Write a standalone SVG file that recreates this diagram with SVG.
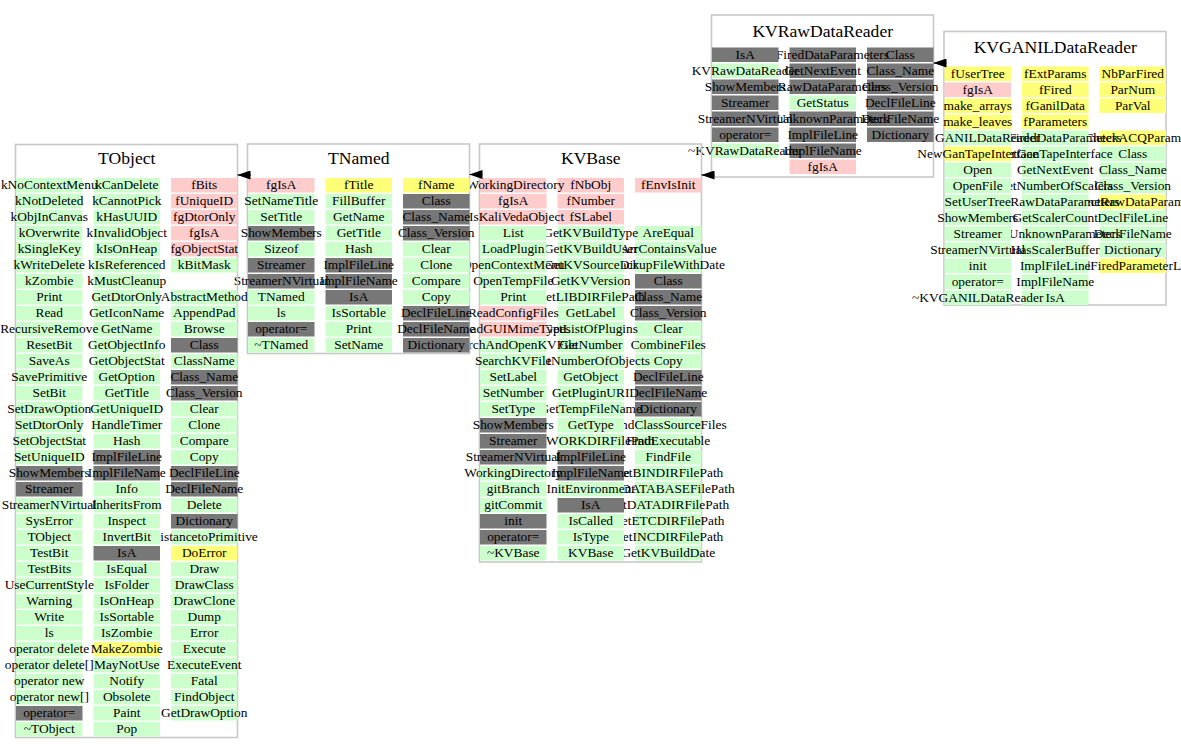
<svg xmlns="http://www.w3.org/2000/svg" width="1181" height="752" viewBox="0 0 1181 752">
<style>
.n{font-family:"Liberation Serif","Times New Roman",serif;font-size:13.4px;text-anchor:middle;fill:#000}
.n .h{font-size:17.6px}
.box{fill:none;stroke:#c8c8c8;stroke-width:1.6}
.g{fill:#ccffcc}.p{fill:#ffcccc}.y{fill:#ffff77}.d{fill:#777777}
.e path{fill:none;stroke:#000;stroke-width:1;marker-end:url(#ah)}
</style>
<defs>
<marker id="ah" viewBox="0 0 13 9" refX="13" refY="4.5" markerWidth="13" markerHeight="9" markerUnits="userSpaceOnUse" orient="auto"><path d="M0,0L13,4.5L0,9Z" fill="#000" stroke="none"/></marker>
</defs>
<rect width="1181" height="752" fill="#fff"/>

<g id="KVGANILDataReader" class="n" transform="translate(944.5,66.5)">
<rect class="box" x="-0.5" y="-35" width="222" height="273.5"/>
<text class="h" x="110.75" y="-14">KVGANILDataReader</text>
<rect class="y" x="155" y="0" width="66.5" height="14.5"/><text x="188.25" y="11">NbParFired</text>
<rect class="y" x="155" y="16" width="66.5" height="14.5"/><text x="188.25" y="27">ParNum</text>
<rect class="y" x="155" y="32" width="66.5" height="14.5"/><text x="188.25" y="43">ParVal</text>
<rect class="y" x="155" y="64" width="66.5" height="14.5"/><text x="188.25" y="75">CheckACQParam</text>
<rect class="g" x="155" y="80" width="66.5" height="14.5"/><text x="188.25" y="91">Class</text>
<rect class="g" x="155" y="96" width="66.5" height="14.5"/><text x="188.25" y="107">Class_Name</text>
<rect class="g" x="155" y="112" width="66.5" height="14.5"/><text x="188.25" y="123">Class_Version</text>
<rect class="y" x="155" y="128" width="66.5" height="14.5"/><text x="188.25" y="139">ConnectRawDataParameters</text>
<rect class="g" x="155" y="144" width="66.5" height="14.5"/><text x="188.25" y="155">DeclFileLine</text>
<rect class="g" x="155" y="160" width="66.5" height="14.5"/><text x="188.25" y="171">DeclFileName</text>
<rect class="g" x="155" y="176" width="66.5" height="14.5"/><text x="188.25" y="187">Dictionary</text>
<rect class="y" x="155" y="192" width="66.5" height="14.5"/><text x="188.25" y="203">FillFiredParameterList</text>
<rect class="y" x="77.5" y="0" width="66.5" height="14.5"/><text x="110.75" y="11">fExtParams</text>
<rect class="y" x="77.5" y="16" width="66.5" height="14.5"/><text x="110.75" y="27">fFired</text>
<rect class="y" x="77.5" y="32" width="66.5" height="14.5"/><text x="110.75" y="43">fGanilData</text>
<rect class="y" x="77.5" y="48" width="66.5" height="14.5"/><text x="110.75" y="59">fParameters</text>
<rect class="g" x="77.5" y="64" width="66.5" height="14.5"/><text x="110.75" y="75">GetFiredDataParameters</text>
<rect class="g" x="77.5" y="80" width="66.5" height="14.5"/><text x="110.75" y="91">GetGanTapeInterface</text>
<rect class="g" x="77.5" y="96" width="66.5" height="14.5"/><text x="110.75" y="107">GetNextEvent</text>
<rect class="g" x="77.5" y="112" width="66.5" height="14.5"/><text x="110.75" y="123">GetNumberOfScalers</text>
<rect class="g" x="77.5" y="128" width="66.5" height="14.5"/><text x="110.75" y="139">GetRawDataParameters</text>
<rect class="g" x="77.5" y="144" width="66.5" height="14.5"/><text x="110.75" y="155">GetScalerCount</text>
<rect class="g" x="77.5" y="160" width="66.5" height="14.5"/><text x="110.75" y="171">GetUnknownParameters</text>
<rect class="g" x="77.5" y="176" width="66.5" height="14.5"/><text x="110.75" y="187">HasScalerBuffer</text>
<rect class="g" x="77.5" y="192" width="66.5" height="14.5"/><text x="110.75" y="203">ImplFileLine</text>
<rect class="g" x="77.5" y="208" width="66.5" height="14.5"/><text x="110.75" y="219">ImplFileName</text>
<rect class="g" x="77.5" y="224" width="66.5" height="14.5"/><text x="110.75" y="235">IsA</text>
<rect class="y" x="0" y="0" width="66.5" height="14.5"/><text x="33.25" y="11">fUserTree</text>
<rect class="p" x="0" y="16" width="66.5" height="14.5"/><text x="33.25" y="27">fgIsA</text>
<rect class="y" x="0" y="32" width="66.5" height="14.5"/><text x="33.25" y="43">make_arrays</text>
<rect class="y" x="0" y="48" width="66.5" height="14.5"/><text x="33.25" y="59">make_leaves</text>
<rect class="g" x="0" y="64" width="66.5" height="14.5"/><text x="33.25" y="75">KVGANILDataReader</text>
<rect class="y" x="0" y="80" width="66.5" height="14.5"/><text x="33.25" y="91">NewGanTapeInterface</text>
<rect class="g" x="0" y="96" width="66.5" height="14.5"/><text x="33.25" y="107">Open</text>
<rect class="g" x="0" y="112" width="66.5" height="14.5"/><text x="33.25" y="123">OpenFile</text>
<rect class="g" x="0" y="128" width="66.5" height="14.5"/><text x="33.25" y="139">SetUserTree</text>
<rect class="g" x="0" y="144" width="66.5" height="14.5"/><text x="33.25" y="155">ShowMembers</text>
<rect class="g" x="0" y="160" width="66.5" height="14.5"/><text x="33.25" y="171">Streamer</text>
<rect class="g" x="0" y="176" width="66.5" height="14.5"/><text x="33.25" y="187">StreamerNVirtual</text>
<rect class="g" x="0" y="192" width="66.5" height="14.5"/><text x="33.25" y="203">init</text>
<rect class="g" x="0" y="208" width="66.5" height="14.5"/><text x="33.25" y="219">operator=</text>
<rect class="g" x="0" y="224" width="66.5" height="14.5"/><text x="33.25" y="235">~KVGANILDataReader</text>
</g>

<g id="KVRawDataReader" class="n" transform="translate(712,47.5)">
<rect class="box" x="-0.5" y="-32.5" width="222" height="162"/>
<text class="h" x="110.75" y="-11">KVRawDataReader</text>
<rect class="d" x="155" y="0" width="66.5" height="14.5"/><text x="188.25" y="11">Class</text>
<rect class="d" x="155" y="16" width="66.5" height="14.5"/><text x="188.25" y="27">Class_Name</text>
<rect class="d" x="155" y="32" width="66.5" height="14.5"/><text x="188.25" y="43">Class_Version</text>
<rect class="d" x="155" y="48" width="66.5" height="14.5"/><text x="188.25" y="59">DeclFileLine</text>
<rect class="d" x="155" y="64" width="66.5" height="14.5"/><text x="188.25" y="75">DeclFileName</text>
<rect class="d" x="155" y="80" width="66.5" height="14.5"/><text x="188.25" y="91">Dictionary</text>
<rect class="d" x="77.5" y="0" width="66.5" height="14.5"/><text x="110.75" y="11">GetFiredDataParameters</text>
<rect class="d" x="77.5" y="16" width="66.5" height="14.5"/><text x="110.75" y="27">GetNextEvent</text>
<rect class="d" x="77.5" y="32" width="66.5" height="14.5"/><text x="110.75" y="43">GetRawDataParameters</text>
<rect class="g" x="77.5" y="48" width="66.5" height="14.5"/><text x="110.75" y="59">GetStatus</text>
<rect class="d" x="77.5" y="64" width="66.5" height="14.5"/><text x="110.75" y="75">GetUnknownParameters</text>
<rect class="d" x="77.5" y="80" width="66.5" height="14.5"/><text x="110.75" y="91">ImplFileLine</text>
<rect class="d" x="77.5" y="96" width="66.5" height="14.5"/><text x="110.75" y="107">ImplFileName</text>
<rect class="p" x="77.5" y="112" width="66.5" height="14.5"/><text x="110.75" y="123">fgIsA</text>
<rect class="d" x="0" y="0" width="66.5" height="14.5"/><text x="33.25" y="11">IsA</text>
<rect class="g" x="0" y="16" width="66.5" height="14.5"/><text x="33.25" y="27">KVRawDataReader</text>
<rect class="d" x="0" y="32" width="66.5" height="14.5"/><text x="33.25" y="43">ShowMembers</text>
<rect class="d" x="0" y="48" width="66.5" height="14.5"/><text x="33.25" y="59">Streamer</text>
<rect class="d" x="0" y="64" width="66.5" height="14.5"/><text x="33.25" y="75">StreamerNVirtual</text>
<rect class="d" x="0" y="80" width="66.5" height="14.5"/><text x="33.25" y="91">operator=</text>
<rect class="g" x="0" y="96" width="66.5" height="14.5"/><text x="33.25" y="107">~KVRawDataReader</text>
</g>

<g id="KVBase" class="n" transform="translate(480,178)">
<rect class="box" x="-0.5" y="-34" width="222" height="418"/>
<text class="h" x="110.75" y="-14">KVBase</text>
<rect class="p" x="155" y="0" width="66.5" height="14.5"/><text x="188.25" y="11">fEnvIsInit</text>
<rect class="g" x="155" y="48" width="66.5" height="14.5"/><text x="188.25" y="59">AreEqual</text>
<rect class="g" x="155" y="64" width="66.5" height="14.5"/><text x="188.25" y="75">ArrContainsValue</text>
<rect class="g" x="155" y="80" width="66.5" height="14.5"/><text x="188.25" y="91">BackupFileWithDate</text>
<rect class="d" x="155" y="96" width="66.5" height="14.5"/><text x="188.25" y="107">Class</text>
<rect class="d" x="155" y="112" width="66.5" height="14.5"/><text x="188.25" y="123">Class_Name</text>
<rect class="d" x="155" y="128" width="66.5" height="14.5"/><text x="188.25" y="139">Class_Version</text>
<rect class="g" x="155" y="144" width="66.5" height="14.5"/><text x="188.25" y="155">Clear</text>
<rect class="g" x="155" y="160" width="66.5" height="14.5"/><text x="188.25" y="171">CombineFiles</text>
<rect class="g" x="155" y="176" width="66.5" height="14.5"/><text x="188.25" y="187">Copy</text>
<rect class="d" x="155" y="192" width="66.5" height="14.5"/><text x="188.25" y="203">DeclFileLine</text>
<rect class="d" x="155" y="208" width="66.5" height="14.5"/><text x="188.25" y="219">DeclFileName</text>
<rect class="d" x="155" y="224" width="66.5" height="14.5"/><text x="188.25" y="235">Dictionary</text>
<rect class="g" x="155" y="240" width="66.5" height="14.5"/><text x="188.25" y="251">FindClassSourceFiles</text>
<rect class="g" x="155" y="256" width="66.5" height="14.5"/><text x="188.25" y="267">FindExecutable</text>
<rect class="g" x="155" y="272" width="66.5" height="14.5"/><text x="188.25" y="283">FindFile</text>
<rect class="g" x="155" y="288" width="66.5" height="14.5"/><text x="188.25" y="299">GetBINDIRFilePath</text>
<rect class="g" x="155" y="304" width="66.5" height="14.5"/><text x="188.25" y="315">GetDATABASEFilePath</text>
<rect class="g" x="155" y="320" width="66.5" height="14.5"/><text x="188.25" y="331">GetDATADIRFilePath</text>
<rect class="g" x="155" y="336" width="66.5" height="14.5"/><text x="188.25" y="347">GetETCDIRFilePath</text>
<rect class="g" x="155" y="352" width="66.5" height="14.5"/><text x="188.25" y="363">GetINCDIRFilePath</text>
<rect class="g" x="155" y="368" width="66.5" height="14.5"/><text x="188.25" y="379">GetKVBuildDate</text>
<rect class="p" x="77.5" y="0" width="66.5" height="14.5"/><text x="110.75" y="11">fNbObj</text>
<rect class="p" x="77.5" y="16" width="66.5" height="14.5"/><text x="110.75" y="27">fNumber</text>
<rect class="p" x="77.5" y="32" width="66.5" height="14.5"/><text x="110.75" y="43">fSLabel</text>
<rect class="g" x="77.5" y="48" width="66.5" height="14.5"/><text x="110.75" y="59">GetKVBuildType</text>
<rect class="g" x="77.5" y="64" width="66.5" height="14.5"/><text x="110.75" y="75">GetKVBuildUser</text>
<rect class="g" x="77.5" y="80" width="66.5" height="14.5"/><text x="110.75" y="91">GetKVSourceDir</text>
<rect class="g" x="77.5" y="96" width="66.5" height="14.5"/><text x="110.75" y="107">GetKVVersion</text>
<rect class="g" x="77.5" y="112" width="66.5" height="14.5"/><text x="110.75" y="123">GetLIBDIRFilePath</text>
<rect class="g" x="77.5" y="128" width="66.5" height="14.5"/><text x="110.75" y="139">GetLabel</text>
<rect class="g" x="77.5" y="144" width="66.5" height="14.5"/><text x="110.75" y="155">GetListOfPlugins</text>
<rect class="g" x="77.5" y="160" width="66.5" height="14.5"/><text x="110.75" y="171">GetNumber</text>
<rect class="g" x="77.5" y="176" width="66.5" height="14.5"/><text x="110.75" y="187">GetNumberOfObjects</text>
<rect class="g" x="77.5" y="192" width="66.5" height="14.5"/><text x="110.75" y="203">GetObject</text>
<rect class="g" x="77.5" y="208" width="66.5" height="14.5"/><text x="110.75" y="219">GetPluginURI</text>
<rect class="g" x="77.5" y="224" width="66.5" height="14.5"/><text x="110.75" y="235">GetTempFileName</text>
<rect class="g" x="77.5" y="240" width="66.5" height="14.5"/><text x="110.75" y="251">GetType</text>
<rect class="g" x="77.5" y="256" width="66.5" height="14.5"/><text x="110.75" y="267">GetWORKDIRFilePath</text>
<rect class="d" x="77.5" y="272" width="66.5" height="14.5"/><text x="110.75" y="283">ImplFileLine</text>
<rect class="d" x="77.5" y="288" width="66.5" height="14.5"/><text x="110.75" y="299">ImplFileName</text>
<rect class="g" x="77.5" y="304" width="66.5" height="14.5"/><text x="110.75" y="315">InitEnvironment</text>
<rect class="d" x="77.5" y="320" width="66.5" height="14.5"/><text x="110.75" y="331">IsA</text>
<rect class="g" x="77.5" y="336" width="66.5" height="14.5"/><text x="110.75" y="347">IsCalled</text>
<rect class="g" x="77.5" y="352" width="66.5" height="14.5"/><text x="110.75" y="363">IsType</text>
<rect class="g" x="77.5" y="368" width="66.5" height="14.5"/><text x="110.75" y="379">KVBase</text>
<rect class="p" x="0" y="0" width="66.5" height="14.5"/><text x="33.25" y="11">fWorkingDirectory</text>
<rect class="p" x="0" y="16" width="66.5" height="14.5"/><text x="33.25" y="27">fgIsA</text>
<rect class="p" x="0" y="32" width="66.5" height="14.5"/><text x="33.25" y="43">kIsKaliVedaObject</text>
<rect class="g" x="0" y="48" width="66.5" height="14.5"/><text x="33.25" y="59">List</text>
<rect class="g" x="0" y="64" width="66.5" height="14.5"/><text x="33.25" y="75">LoadPlugin</text>
<rect class="g" x="0" y="80" width="66.5" height="14.5"/><text x="33.25" y="91">OpenContextMenu</text>
<rect class="g" x="0" y="96" width="66.5" height="14.5"/><text x="33.25" y="107">OpenTempFile</text>
<rect class="g" x="0" y="112" width="66.5" height="14.5"/><text x="33.25" y="123">Print</text>
<rect class="p" x="0" y="128" width="66.5" height="14.5"/><text x="33.25" y="139">ReadConfigFiles</text>
<rect class="p" x="0" y="144" width="66.5" height="14.5"/><text x="33.25" y="155">ReadGUIMimeTypes</text>
<rect class="g" x="0" y="160" width="66.5" height="14.5"/><text x="33.25" y="171">SearchAndOpenKVFile</text>
<rect class="g" x="0" y="176" width="66.5" height="14.5"/><text x="33.25" y="187">SearchKVFile</text>
<rect class="g" x="0" y="192" width="66.5" height="14.5"/><text x="33.25" y="203">SetLabel</text>
<rect class="g" x="0" y="208" width="66.5" height="14.5"/><text x="33.25" y="219">SetNumber</text>
<rect class="g" x="0" y="224" width="66.5" height="14.5"/><text x="33.25" y="235">SetType</text>
<rect class="d" x="0" y="240" width="66.5" height="14.5"/><text x="33.25" y="251">ShowMembers</text>
<rect class="d" x="0" y="256" width="66.5" height="14.5"/><text x="33.25" y="267">Streamer</text>
<rect class="d" x="0" y="272" width="66.5" height="14.5"/><text x="33.25" y="283">StreamerNVirtual</text>
<rect class="g" x="0" y="288" width="66.5" height="14.5"/><text x="33.25" y="299">WorkingDirectory</text>
<rect class="g" x="0" y="304" width="66.5" height="14.5"/><text x="33.25" y="315">gitBranch</text>
<rect class="g" x="0" y="320" width="66.5" height="14.5"/><text x="33.25" y="331">gitCommit</text>
<rect class="d" x="0" y="336" width="66.5" height="14.5"/><text x="33.25" y="347">init</text>
<rect class="d" x="0" y="352" width="66.5" height="14.5"/><text x="33.25" y="363">operator=</text>
<rect class="g" x="0" y="368" width="66.5" height="14.5"/><text x="33.25" y="379">~KVBase</text>
</g>

<g id="TNamed" class="n" transform="translate(248,178)">
<rect class="box" x="-0.5" y="-34" width="222" height="209.5"/>
<text class="h" x="110.75" y="-14">TNamed</text>
<rect class="y" x="155" y="0" width="66.5" height="14.5"/><text x="188.25" y="11">fName</text>
<rect class="d" x="155" y="16" width="66.5" height="14.5"/><text x="188.25" y="27">Class</text>
<rect class="d" x="155" y="32" width="66.5" height="14.5"/><text x="188.25" y="43">Class_Name</text>
<rect class="d" x="155" y="48" width="66.5" height="14.5"/><text x="188.25" y="59">Class_Version</text>
<rect class="g" x="155" y="64" width="66.5" height="14.5"/><text x="188.25" y="75">Clear</text>
<rect class="g" x="155" y="80" width="66.5" height="14.5"/><text x="188.25" y="91">Clone</text>
<rect class="g" x="155" y="96" width="66.5" height="14.5"/><text x="188.25" y="107">Compare</text>
<rect class="g" x="155" y="112" width="66.5" height="14.5"/><text x="188.25" y="123">Copy</text>
<rect class="d" x="155" y="128" width="66.5" height="14.5"/><text x="188.25" y="139">DeclFileLine</text>
<rect class="d" x="155" y="144" width="66.5" height="14.5"/><text x="188.25" y="155">DeclFileName</text>
<rect class="d" x="155" y="160" width="66.5" height="14.5"/><text x="188.25" y="171">Dictionary</text>
<rect class="y" x="77.5" y="0" width="66.5" height="14.5"/><text x="110.75" y="11">fTitle</text>
<rect class="g" x="77.5" y="16" width="66.5" height="14.5"/><text x="110.75" y="27">FillBuffer</text>
<rect class="g" x="77.5" y="32" width="66.5" height="14.5"/><text x="110.75" y="43">GetName</text>
<rect class="g" x="77.5" y="48" width="66.5" height="14.5"/><text x="110.75" y="59">GetTitle</text>
<rect class="g" x="77.5" y="64" width="66.5" height="14.5"/><text x="110.75" y="75">Hash</text>
<rect class="d" x="77.5" y="80" width="66.5" height="14.5"/><text x="110.75" y="91">ImplFileLine</text>
<rect class="d" x="77.5" y="96" width="66.5" height="14.5"/><text x="110.75" y="107">ImplFileName</text>
<rect class="d" x="77.5" y="112" width="66.5" height="14.5"/><text x="110.75" y="123">IsA</text>
<rect class="g" x="77.5" y="128" width="66.5" height="14.5"/><text x="110.75" y="139">IsSortable</text>
<rect class="g" x="77.5" y="144" width="66.5" height="14.5"/><text x="110.75" y="155">Print</text>
<rect class="g" x="77.5" y="160" width="66.5" height="14.5"/><text x="110.75" y="171">SetName</text>
<rect class="p" x="0" y="0" width="66.5" height="14.5"/><text x="33.25" y="11">fgIsA</text>
<rect class="g" x="0" y="16" width="66.5" height="14.5"/><text x="33.25" y="27">SetNameTitle</text>
<rect class="g" x="0" y="32" width="66.5" height="14.5"/><text x="33.25" y="43">SetTitle</text>
<rect class="d" x="0" y="48" width="66.5" height="14.5"/><text x="33.25" y="59">ShowMembers</text>
<rect class="g" x="0" y="64" width="66.5" height="14.5"/><text x="33.25" y="75">Sizeof</text>
<rect class="d" x="0" y="80" width="66.5" height="14.5"/><text x="33.25" y="91">Streamer</text>
<rect class="d" x="0" y="96" width="66.5" height="14.5"/><text x="33.25" y="107">StreamerNVirtual</text>
<rect class="g" x="0" y="112" width="66.5" height="14.5"/><text x="33.25" y="123">TNamed</text>
<rect class="g" x="0" y="128" width="66.5" height="14.5"/><text x="33.25" y="139">ls</text>
<rect class="d" x="0" y="144" width="66.5" height="14.5"/><text x="33.25" y="155">operator=</text>
<rect class="g" x="0" y="160" width="66.5" height="14.5"/><text x="33.25" y="171">~TNamed</text>
</g>

<g id="TObject" class="n" transform="translate(16,178)">
<rect class="box" x="-0.5" y="-33.5" width="222" height="593"/>
<text class="h" x="110.75" y="-14">TObject</text>
<rect class="p" x="155" y="0" width="66.5" height="14.5"/><text x="188.25" y="11">fBits</text>
<rect class="p" x="155" y="16" width="66.5" height="14.5"/><text x="188.25" y="27">fUniqueID</text>
<rect class="p" x="155" y="32" width="66.5" height="14.5"/><text x="188.25" y="43">fgDtorOnly</text>
<rect class="p" x="155" y="48" width="66.5" height="14.5"/><text x="188.25" y="59">fgIsA</text>
<rect class="p" x="155" y="64" width="66.5" height="14.5"/><text x="188.25" y="75">fgObjectStat</text>
<rect class="g" x="155" y="80" width="66.5" height="14.5"/><text x="188.25" y="91">kBitMask</text>
<rect class="g" x="155" y="112" width="66.5" height="14.5"/><text x="188.25" y="123">AbstractMethod</text>
<rect class="g" x="155" y="128" width="66.5" height="14.5"/><text x="188.25" y="139">AppendPad</text>
<rect class="g" x="155" y="144" width="66.5" height="14.5"/><text x="188.25" y="155">Browse</text>
<rect class="d" x="155" y="160" width="66.5" height="14.5"/><text x="188.25" y="171">Class</text>
<rect class="g" x="155" y="176" width="66.5" height="14.5"/><text x="188.25" y="187">ClassName</text>
<rect class="d" x="155" y="192" width="66.5" height="14.5"/><text x="188.25" y="203">Class_Name</text>
<rect class="d" x="155" y="208" width="66.5" height="14.5"/><text x="188.25" y="219">Class_Version</text>
<rect class="g" x="155" y="224" width="66.5" height="14.5"/><text x="188.25" y="235">Clear</text>
<rect class="g" x="155" y="240" width="66.5" height="14.5"/><text x="188.25" y="251">Clone</text>
<rect class="g" x="155" y="256" width="66.5" height="14.5"/><text x="188.25" y="267">Compare</text>
<rect class="g" x="155" y="272" width="66.5" height="14.5"/><text x="188.25" y="283">Copy</text>
<rect class="d" x="155" y="288" width="66.5" height="14.5"/><text x="188.25" y="299">DeclFileLine</text>
<rect class="d" x="155" y="304" width="66.5" height="14.5"/><text x="188.25" y="315">DeclFileName</text>
<rect class="g" x="155" y="320" width="66.5" height="14.5"/><text x="188.25" y="331">Delete</text>
<rect class="d" x="155" y="336" width="66.5" height="14.5"/><text x="188.25" y="347">Dictionary</text>
<rect class="g" x="155" y="352" width="66.5" height="14.5"/><text x="188.25" y="363">DistancetoPrimitive</text>
<rect class="y" x="155" y="368" width="66.5" height="14.5"/><text x="188.25" y="379">DoError</text>
<rect class="g" x="155" y="384" width="66.5" height="14.5"/><text x="188.25" y="395">Draw</text>
<rect class="g" x="155" y="400" width="66.5" height="14.5"/><text x="188.25" y="411">DrawClass</text>
<rect class="g" x="155" y="416" width="66.5" height="14.5"/><text x="188.25" y="427">DrawClone</text>
<rect class="g" x="155" y="432" width="66.5" height="14.5"/><text x="188.25" y="443">Dump</text>
<rect class="g" x="155" y="448" width="66.5" height="14.5"/><text x="188.25" y="459">Error</text>
<rect class="g" x="155" y="464" width="66.5" height="14.5"/><text x="188.25" y="475">Execute</text>
<rect class="g" x="155" y="480" width="66.5" height="14.5"/><text x="188.25" y="491">ExecuteEvent</text>
<rect class="g" x="155" y="496" width="66.5" height="14.5"/><text x="188.25" y="507">Fatal</text>
<rect class="g" x="155" y="512" width="66.5" height="14.5"/><text x="188.25" y="523">FindObject</text>
<rect class="g" x="155" y="528" width="66.5" height="14.5"/><text x="188.25" y="539">GetDrawOption</text>
<rect class="g" x="77.5" y="0" width="66.5" height="14.5"/><text x="110.75" y="11">kCanDelete</text>
<rect class="g" x="77.5" y="16" width="66.5" height="14.5"/><text x="110.75" y="27">kCannotPick</text>
<rect class="g" x="77.5" y="32" width="66.5" height="14.5"/><text x="110.75" y="43">kHasUUID</text>
<rect class="g" x="77.5" y="48" width="66.5" height="14.5"/><text x="110.75" y="59">kInvalidObject</text>
<rect class="g" x="77.5" y="64" width="66.5" height="14.5"/><text x="110.75" y="75">kIsOnHeap</text>
<rect class="g" x="77.5" y="80" width="66.5" height="14.5"/><text x="110.75" y="91">kIsReferenced</text>
<rect class="g" x="77.5" y="96" width="66.5" height="14.5"/><text x="110.75" y="107">kMustCleanup</text>
<rect class="g" x="77.5" y="112" width="66.5" height="14.5"/><text x="110.75" y="123">GetDtorOnly</text>
<rect class="g" x="77.5" y="128" width="66.5" height="14.5"/><text x="110.75" y="139">GetIconName</text>
<rect class="g" x="77.5" y="144" width="66.5" height="14.5"/><text x="110.75" y="155">GetName</text>
<rect class="g" x="77.5" y="160" width="66.5" height="14.5"/><text x="110.75" y="171">GetObjectInfo</text>
<rect class="g" x="77.5" y="176" width="66.5" height="14.5"/><text x="110.75" y="187">GetObjectStat</text>
<rect class="g" x="77.5" y="192" width="66.5" height="14.5"/><text x="110.75" y="203">GetOption</text>
<rect class="g" x="77.5" y="208" width="66.5" height="14.5"/><text x="110.75" y="219">GetTitle</text>
<rect class="g" x="77.5" y="224" width="66.5" height="14.5"/><text x="110.75" y="235">GetUniqueID</text>
<rect class="g" x="77.5" y="240" width="66.5" height="14.5"/><text x="110.75" y="251">HandleTimer</text>
<rect class="g" x="77.5" y="256" width="66.5" height="14.5"/><text x="110.75" y="267">Hash</text>
<rect class="d" x="77.5" y="272" width="66.5" height="14.5"/><text x="110.75" y="283">ImplFileLine</text>
<rect class="d" x="77.5" y="288" width="66.5" height="14.5"/><text x="110.75" y="299">ImplFileName</text>
<rect class="g" x="77.5" y="304" width="66.5" height="14.5"/><text x="110.75" y="315">Info</text>
<rect class="g" x="77.5" y="320" width="66.5" height="14.5"/><text x="110.75" y="331">InheritsFrom</text>
<rect class="g" x="77.5" y="336" width="66.5" height="14.5"/><text x="110.75" y="347">Inspect</text>
<rect class="g" x="77.5" y="352" width="66.5" height="14.5"/><text x="110.75" y="363">InvertBit</text>
<rect class="d" x="77.5" y="368" width="66.5" height="14.5"/><text x="110.75" y="379">IsA</text>
<rect class="g" x="77.5" y="384" width="66.5" height="14.5"/><text x="110.75" y="395">IsEqual</text>
<rect class="g" x="77.5" y="400" width="66.5" height="14.5"/><text x="110.75" y="411">IsFolder</text>
<rect class="g" x="77.5" y="416" width="66.5" height="14.5"/><text x="110.75" y="427">IsOnHeap</text>
<rect class="g" x="77.5" y="432" width="66.5" height="14.5"/><text x="110.75" y="443">IsSortable</text>
<rect class="g" x="77.5" y="448" width="66.5" height="14.5"/><text x="110.75" y="459">IsZombie</text>
<rect class="y" x="77.5" y="464" width="66.5" height="14.5"/><text x="110.75" y="475">MakeZombie</text>
<rect class="g" x="77.5" y="480" width="66.5" height="14.5"/><text x="110.75" y="491">MayNotUse</text>
<rect class="g" x="77.5" y="496" width="66.5" height="14.5"/><text x="110.75" y="507">Notify</text>
<rect class="g" x="77.5" y="512" width="66.5" height="14.5"/><text x="110.75" y="523">Obsolete</text>
<rect class="g" x="77.5" y="528" width="66.5" height="14.5"/><text x="110.75" y="539">Paint</text>
<rect class="g" x="77.5" y="544" width="66.5" height="14.5"/><text x="110.75" y="555">Pop</text>
<rect class="g" x="0" y="0" width="66.5" height="14.5"/><text x="33.25" y="11">kNoContextMenu</text>
<rect class="g" x="0" y="16" width="66.5" height="14.5"/><text x="33.25" y="27">kNotDeleted</text>
<rect class="g" x="0" y="32" width="66.5" height="14.5"/><text x="33.25" y="43">kObjInCanvas</text>
<rect class="g" x="0" y="48" width="66.5" height="14.5"/><text x="33.25" y="59">kOverwrite</text>
<rect class="g" x="0" y="64" width="66.5" height="14.5"/><text x="33.25" y="75">kSingleKey</text>
<rect class="g" x="0" y="80" width="66.5" height="14.5"/><text x="33.25" y="91">kWriteDelete</text>
<rect class="g" x="0" y="96" width="66.5" height="14.5"/><text x="33.25" y="107">kZombie</text>
<rect class="g" x="0" y="112" width="66.5" height="14.5"/><text x="33.25" y="123">Print</text>
<rect class="g" x="0" y="128" width="66.5" height="14.5"/><text x="33.25" y="139">Read</text>
<rect class="g" x="0" y="144" width="66.5" height="14.5"/><text x="33.25" y="155">RecursiveRemove</text>
<rect class="g" x="0" y="160" width="66.5" height="14.5"/><text x="33.25" y="171">ResetBit</text>
<rect class="g" x="0" y="176" width="66.5" height="14.5"/><text x="33.25" y="187">SaveAs</text>
<rect class="g" x="0" y="192" width="66.5" height="14.5"/><text x="33.25" y="203">SavePrimitive</text>
<rect class="g" x="0" y="208" width="66.5" height="14.5"/><text x="33.25" y="219">SetBit</text>
<rect class="g" x="0" y="224" width="66.5" height="14.5"/><text x="33.25" y="235">SetDrawOption</text>
<rect class="g" x="0" y="240" width="66.5" height="14.5"/><text x="33.25" y="251">SetDtorOnly</text>
<rect class="g" x="0" y="256" width="66.5" height="14.5"/><text x="33.25" y="267">SetObjectStat</text>
<rect class="g" x="0" y="272" width="66.5" height="14.5"/><text x="33.25" y="283">SetUniqueID</text>
<rect class="d" x="0" y="288" width="66.5" height="14.5"/><text x="33.25" y="299">ShowMembers</text>
<rect class="d" x="0" y="304" width="66.5" height="14.5"/><text x="33.25" y="315">Streamer</text>
<rect class="g" x="0" y="320" width="66.5" height="14.5"/><text x="33.25" y="331">StreamerNVirtual</text>
<rect class="g" x="0" y="336" width="66.5" height="14.5"/><text x="33.25" y="347">SysError</text>
<rect class="g" x="0" y="352" width="66.5" height="14.5"/><text x="33.25" y="363">TObject</text>
<rect class="g" x="0" y="368" width="66.5" height="14.5"/><text x="33.25" y="379">TestBit</text>
<rect class="g" x="0" y="384" width="66.5" height="14.5"/><text x="33.25" y="395">TestBits</text>
<rect class="g" x="0" y="400" width="66.5" height="14.5"/><text x="33.25" y="411">UseCurrentStyle</text>
<rect class="g" x="0" y="416" width="66.5" height="14.5"/><text x="33.25" y="427">Warning</text>
<rect class="g" x="0" y="432" width="66.5" height="14.5"/><text x="33.25" y="443">Write</text>
<rect class="g" x="0" y="448" width="66.5" height="14.5"/><text x="33.25" y="459">ls</text>
<rect class="g" x="0" y="464" width="66.5" height="14.5"/><text x="33.25" y="475">operator delete</text>
<rect class="g" x="0" y="480" width="66.5" height="14.5"/><text x="33.25" y="491">operator delete[]</text>
<rect class="g" x="0" y="496" width="66.5" height="14.5"/><text x="33.25" y="507">operator new</text>
<rect class="g" x="0" y="512" width="66.5" height="14.5"/><text x="33.25" y="523">operator new[]</text>
<rect class="d" x="0" y="528" width="66.5" height="14.5"/><text x="33.25" y="539">operator=</text>
<rect class="g" x="0" y="544" width="66.5" height="14.5"/><text x="33.25" y="555">~TObject</text>
</g>

<g id="connectors" class="e">
<path d="M251,175H237.5"/>
<path d="M482.5,174.5H469.5"/>
<path d="M714.5,175H701.5"/>
<path d="M946.5,63H933.5"/>
</g>
</svg>
